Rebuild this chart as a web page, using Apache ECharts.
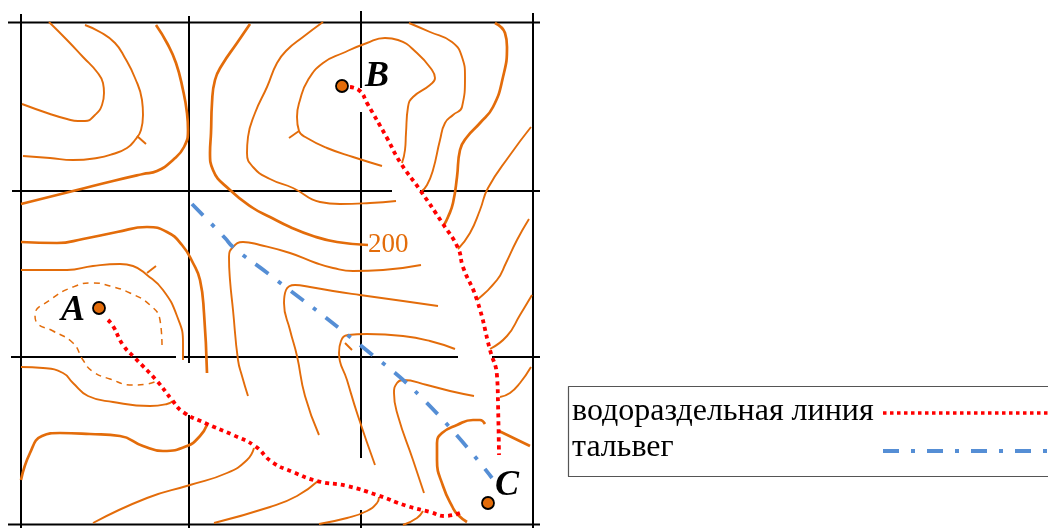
<!DOCTYPE html>
<html><head><meta charset="utf-8">
<style>html,body{margin:0;padding:0;background:#fff}#c{width:1048px;height:528px}</style>
<script src="https://cdn.jsdelivr.net/npm/echarts@6/dist/echarts.min.js"></script>
</head><body><div id="c"></div>
<script>
// Map grid
const gridLines = [
 [[21,14],[21,528]], [[189,16],[189,363]], [[189,415],[189,528]],
 [[361,11],[361,88]], [[361,112],[361,458]], [[361,510],[361,528]], [[533,13],[533,528]],
 [[8,22.5],[540,22.5]], [[12,191],[392,191]], [[420,191],[540,191]],
 [[11,357],[176,357]], [[183,357],[458,357]], [[492,357],[540,357]], [[8,524.5],[540,524.5]]
];
// Thin contours
const contoursThin = [
 [[49,22],[67,40],[83,57],[97,72],[103,83],[104,93],[102,105],[95,115],[85,121],[78,121],[67,119],[50,114],[22,104]],
 [[85,25],[100,32],[115,43],[125,58],[135,78],[142,100],[143,115],[141,130],[135,140],[127,148],[113,154],[97,158],[73,160],[50,158],[23,156]],
 [[137,136],[146,144]],
 [[323,22],[303,37],[287,50],[277,63],[267,87],[255,113],[248,137],[247,153],[253,167],[270,179],[293,188],[320,202],[340,204],[370,203],[396,201]],
 [[382,166],[353,157],[327,148],[307,138],[299,131],[297,117],[300,100],[308,80],[323,63],[343,53],[367,43],[385,38],[398,40],[417,53],[432,70],[435,78],[430,85],[413,97],[408,107],[406,133],[405,150],[402,163]],
 [[289,138],[299,131]],
 [[409,23],[430,32],[452,42],[462,57],[465,77],[462,107],[453,115],[445,123],[440,140],[433,170],[427,185],[421,192]],
 [[531,127],[510,155],[488,188],[480,210],[470,233],[458,249]],
 [[529,219],[517,240],[506,263],[497,280],[477,300]],
 [[532,295],[520,315],[507,336],[490,349]],
 [[531,367],[520,383],[510,393],[500,397]],
 [[21,270],[67,270],[93,266],[120,264],[133,266],[147,275],[163,290],[177,316],[183,343],[183,360]],
 [[147,273],[156,266]],
 [[21,367],[43,368],[63,373],[73,383],[88,396],[113,402],[150,406],[167,404],[173,401]],
 [[93,523],[147,498],[190,485],[227,473],[247,460],[254,448]],
 [[214,523],[270,507],[297,496],[318,481]],
 [[319,524],[347,518],[367,511],[377,503],[379,497]],
 [[403,525],[417,518],[423,511]],
 [[248,396],[242,376],[238,360],[233,310],[230,280],[229,257],[233,247],[243,242],[260,245],[290,253],[316,263],[333,268],[353,271],[383,270],[421,265]],
 [[438,306],[403,301],[360,295],[333,291],[310,287],[295,285],[286,290],[284,303],[290,330],[297,356],[305,396],[319,435]],
 [[455,349],[430,341],[403,336],[367,334],[348,335],[341,341],[339,353],[347,380],[358,416],[375,465]],
 [[352,350],[345,343]],
 [[474,396],[450,391],[427,385],[403,380],[397,383],[394,393],[398,416],[413,460],[424,493]]
];
// Thick contours
const contoursThick = [
 [[156,25],[167,43],[176,63],[183,90],[187,113],[188,130],[184,147],[173,160],[157,171],[143,174],[113,181],[77,190],[21,204]],
 [[250,24],[237,43],[222,65],[215,80],[212,103],[211,133],[210,153],[213,170],[230,190],[253,208],[270,217],[290,227],[313,236],[337,242],[368,245]],
 [[495,23],[505,33],[507,47],[503,77],[493,107],[480,123],[467,137],[460,150],[457,177],[453,203],[448,217],[444,225]],
 [[499,431],[530,446]],
 [[21,242],[57,243],[83,239],[117,232],[147,227],[167,232],[182,245],[193,263],[200,280],[204,313],[207,373]],
 [[21,480],[30,453],[42,436],[60,433],[90,434],[120,436],[143,446],[163,451],[187,446],[200,436],[207,425]],
 [[467,522],[458,515],[453,508],[443,486],[437,460],[437,443],[442,433],[457,425],[473,420],[480,420],[485,424]]
];
const contourDashed = [[162,345],[160,320],[150,305],[130,293],[110,286],[93,283],[73,287],[50,300],[35,315],[37,323],[53,331],[73,343],[83,360],[92,371],[110,379],[133,385],[147,384],[157,381]];
const divideFromA = [[108,320],[113,326],[123,345],[135,358],[157,381],[172,400],[183,412],[205,423],[233,435],[255,446],[272,462],[293,472],[317,481],[347,486],[377,495],[407,506],[430,512],[445,516],[460,513]];
const divideFromB = [[350,87],[360,91],[367,103],[387,138],[400,162],[420,190],[443,224],[458,248],[463,267],[477,300],[490,350],[497,376],[498,403],[499,455]];
const thalweg = [[192,204],[225,238],[233,247],[270,275],[360,345],[425,401],[492,478]];
const points = [[99,308],[342,86],[488,503]];
const pointNames = [['A',61,311],['B',365,77],['C',495,486]];
const legendBox = [[1048,386.5],[568.5,386.5],[568.5,476.5],[1048,476.5]];
const legendRed = [[883,413],[1048,413]];
const legendBlue = [[883,451],[1048,451]];
const legendTexts = [['водораздельная линия',572,412],['тальвег',572,448]];
const contourLabel = [['200',368,245]];

const ORANGE='#E36C0A', SERIF='"Liberation Serif","Times New Roman",serif';
const line=(data,color,width,type,smooth,extra)=>Object.assign({type:'line',data,showSymbol:false,symbol:'none',silent:true,smooth:smooth?0.5:false,
  lineStyle:{color,width,type:type||'solid',cap:'butt',join:'round'},z:2},extra||{});
const text=(d,style)=>({type:'scatter',silent:true,symbolSize:1,itemStyle:{color:'transparent',opacity:1},z:6,
  data:[[d[1],d[2]]],label:Object.assign({show:true,position:'inside',align:'left',verticalAlign:'middle',formatter:d[0],fontFamily:SERIF},style)});
const series=[];
gridLines.forEach(g=>series.push(line(g,'#000',2,'solid',false,{z:1})));
contoursThin.forEach(c=>series.push(line(c,ORANGE,1.9,'solid',true)));
contoursThick.forEach(c=>series.push(line(c,ORANGE,2.7,'solid',true)));
series.push(line(contourDashed,ORANGE,1.5,[6,5],true));
series.push(line(divideFromA,'#FF0000',3.8,[4,4],true,{z:4}));
series.push(line(divideFromB,'#FF0000',3.8,[4,4],true,{z:4}));
series.push(line(thalweg,'#558ED5',3.8,[16,12,4,12],true,{z:3}));
series.push({type:'scatter',silent:true,data:points,symbolSize:12,z:5,itemStyle:{color:ORANGE,opacity:1,borderColor:'#000',borderWidth:1.8}});
series.push(line(legendBox,'#555',1.2,'solid',false));
series.push(line(legendRed,'#FF0000',3.6,[3.5,3.5],false));
series.push(line(legendBlue,'#558ED5',3.8,[16,12,4,12],false));
pointNames.forEach(p=>series.push(text(p,{fontSize:36,fontWeight:'bold',fontStyle:'italic',color:'#000'})));
legendTexts.forEach(t=>series.push(text(t,{fontSize:32,color:'#000'})));
contourLabel.forEach(t=>series.push(text(t,{fontSize:27,color:ORANGE})));

const chart=echarts.init(document.getElementById('c'));
chart.setOption({animation:false,backgroundColor:'#fff',
 grid:{left:0,right:0,top:0,bottom:0},
 xAxis:{type:'value',min:0,max:1048,show:false},
 yAxis:{type:'value',min:0,max:528,inverse:true,show:false},
 series});
</script></body></html>
